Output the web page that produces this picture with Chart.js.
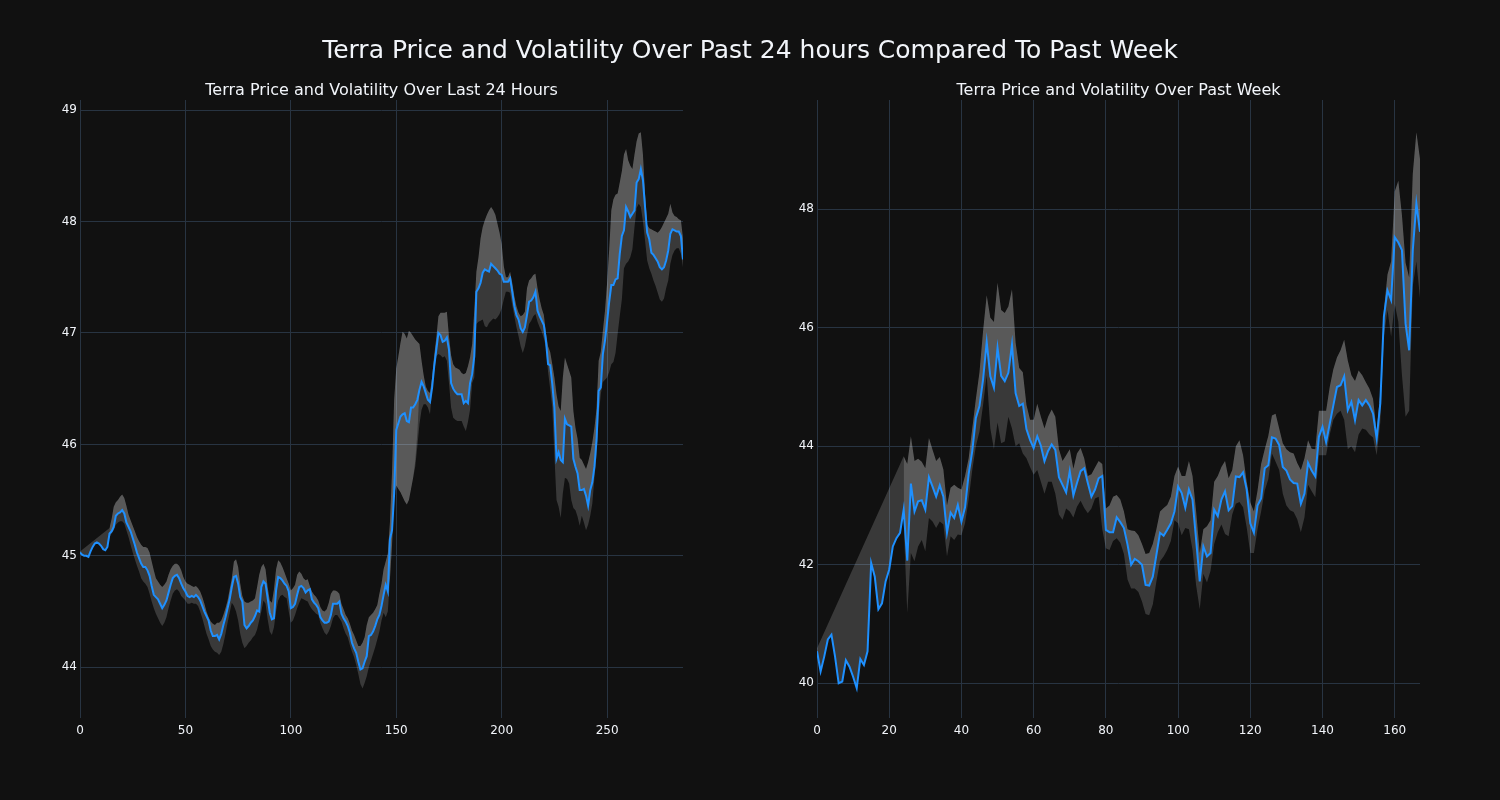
<!DOCTYPE html>
<html lang="en">
<head>
<meta charset="UTF-8">
<title>Terra Price and Volatility</title>
<script src="https://cdn.jsdelivr.net/npm/chart.js"></script>
<style>
    * { margin: 0; padding: 0; box-sizing: border-box; }

    body {
        width: 1500px;
        height: 800px;
        background: #111111;
        color: #f2f5fa;
        font-family: "DejaVu Sans", sans-serif;
        position: relative;
        overflow: hidden;
    }

    .chart-box {
        position: absolute;
        top: 0;
        width: 750px;
        height: 800px;
    }

    .main-title {
        position: absolute;
        top: 35px;
        left: 0;
        width: 1500px;
        text-align: center;
        font-size: 25px;
    }

    .sub-title {
        position: absolute;
        top: 80px;
        width: 603px;
        text-align: center;
        font-size: 16px;
    }
</style>
</head>
<body>
    <div class="chart-box" style="left:0"><canvas id="day-chart" width="750" height="800"></canvas></div>
    <div class="chart-box" style="left:750px"><canvas id="week-chart" width="750" height="800"></canvas></div>

    <div class="main-title">Terra Price and Volatility Over Past 24 hours Compared To Past Week</div>
    <div class="sub-title" style="left:80px">Terra Price and Volatility Over Last 24 Hours</div>
    <div class="sub-title" style="left:817px">Terra Price and Volatility Over Past Week</div>

<script>
// last 24 hours, 5 minute steps
const dayPrice = [
    45.03,45.01,45.0,45.0,44.99,45.04,45.08,45.11,45.12,45.11,
    45.09,45.06,45.05,45.08,45.2,45.22,45.26,45.36,45.38,45.39,
    45.41,45.38,45.3,45.26,45.22,45.16,45.1,45.03,44.98,44.93,
    44.9,44.9,44.87,44.82,44.73,44.65,44.63,44.61,44.57,44.53,
    44.56,44.6,44.67,44.74,44.8,44.82,44.83,44.8,44.75,44.71,
    44.68,44.64,44.63,44.64,44.63,44.65,44.63,44.6,44.55,44.5,
    44.46,44.42,44.33,44.28,44.28,44.29,44.25,44.3,44.38,44.45,
    44.53,44.61,44.72,44.81,44.82,44.75,44.63,44.59,44.38,44.35,
    44.37,44.4,44.42,44.46,44.51,44.5,44.72,44.77,44.75,44.62,
    44.49,44.43,44.44,44.69,44.81,44.8,44.78,44.75,44.73,44.68,
    44.53,44.54,44.57,44.65,44.72,44.73,44.71,44.67,44.69,44.7,
    44.61,44.58,44.56,44.53,44.45,44.42,44.4,44.4,44.41,44.47,
    44.57,44.57,44.57,44.59,44.48,44.44,44.41,44.37,44.31,44.22,
    44.17,44.13,44.05,43.98,43.99,44.05,44.1,44.28,44.29,44.32,
    44.37,44.43,44.47,44.55,44.65,44.74,44.68,45.15,45.23,45.56,
    46.13,46.19,46.25,46.27,46.28,46.21,46.2,46.33,46.33,46.36,
    46.4,46.49,46.56,46.52,46.46,46.4,46.38,46.51,46.7,46.85,
    47.0,46.98,46.92,46.93,46.96,46.85,46.55,46.5,46.47,46.45,
    46.45,46.45,46.37,46.39,46.37,46.55,46.63,46.79,47.37,47.4,
    47.45,47.54,47.57,47.56,47.55,47.62,47.6,47.58,47.56,47.53,
    47.52,47.46,47.46,47.46,47.49,47.37,47.24,47.16,47.12,47.04,
    47.01,47.05,47.16,47.28,47.29,47.32,47.37,47.2,47.15,47.11,
    47.07,46.93,46.72,46.71,46.54,46.33,45.87,45.93,45.86,45.84,
    46.23,46.18,46.17,46.16,45.87,45.8,45.74,45.59,45.59,45.6,
    45.54,45.45,45.59,45.66,45.8,46.04,46.48,46.51,46.81,46.93,
    47.1,47.28,47.43,47.43,47.48,47.49,47.71,47.87,47.92,48.13,
    48.09,48.04,48.07,48.1,48.35,48.38,48.47,48.37,48.13,47.9,
    47.84,47.72,47.7,47.67,47.64,47.59,47.57,47.59,47.65,47.74,
    47.89,47.93,47.92,47.91,47.91,47.87,47.66
];

const dayUpper = [
    45.04,null,null,null,null,null,null,null,null,null,
    null,null,null,null,45.25,45.33,45.44,45.48,45.5,45.53,
    45.55,45.52,45.45,45.37,45.32,45.27,45.22,45.17,45.13,45.1,
    45.08,45.08,45.07,45.03,44.95,44.87,44.8,44.77,44.74,44.72,
    44.74,44.77,44.83,44.88,44.91,44.93,44.93,44.91,44.87,44.81,
    44.77,44.75,44.74,44.73,44.72,44.73,44.71,44.68,44.63,44.57,
    44.5,44.45,44.41,44.39,44.38,44.4,44.4,44.42,44.47,44.53,
    44.6,44.7,44.8,44.95,44.97,44.9,44.75,44.64,44.59,44.58,
    44.58,44.59,44.6,44.62,44.72,44.83,44.9,44.93,44.88,44.72,
    44.6,44.58,44.7,44.88,44.96,44.94,44.9,44.85,44.8,44.75,
    44.69,44.71,44.74,44.83,44.86,44.84,44.8,44.78,44.79,44.73,
    44.68,44.65,44.63,44.6,44.54,44.51,44.5,44.52,44.58,44.66,
    44.69,44.69,44.68,44.66,44.57,44.52,44.47,44.44,44.39,44.33,
    44.29,44.24,44.19,44.19,44.22,44.27,44.38,44.45,44.47,44.49,
    44.52,44.56,44.66,44.75,44.88,44.95,45.02,45.3,45.75,46.4,
    46.68,46.79,46.91,47.01,46.99,46.95,47.02,47.0,46.97,46.94,
    46.92,46.9,46.75,46.62,46.52,46.48,46.46,46.6,46.8,46.96,
    47.15,47.18,47.18,47.18,47.19,46.97,46.8,46.72,46.69,46.68,
    46.67,46.64,46.63,46.64,46.7,46.78,46.9,47.2,47.55,47.68,
    47.85,47.95,48.01,48.06,48.1,48.13,48.1,48.06,47.98,47.9,
    47.8,47.6,47.5,47.5,47.55,47.45,47.33,47.24,47.18,47.15,
    47.16,47.19,47.4,47.47,47.49,47.52,47.53,47.4,47.3,47.22,
    47.16,47.0,46.88,46.83,46.72,46.6,46.45,46.34,46.3,46.6,
    46.78,46.72,46.66,46.6,46.3,46.15,46.05,45.88,45.86,45.82,
    45.78,45.84,45.92,46.02,46.15,46.32,46.75,46.83,47.02,47.2,
    47.45,47.75,48.1,48.2,48.24,48.25,48.35,48.45,48.6,48.65,
    48.55,48.5,48.47,48.6,48.72,48.79,48.8,48.6,48.25,47.97,
    47.94,47.93,47.92,47.91,47.9,47.92,47.95,47.99,48.03,48.07,
    48.16,48.08,48.05,48.04,48.02,48.01,47.85
];

const dayLower = [
    null,null,null,null,null,null,null,null,null,null,
    null,null,null,null,45.17,45.2,45.23,45.28,45.3,45.31,
    45.31,45.29,45.23,45.17,45.1,45.03,44.97,44.91,44.86,44.8,
    44.77,44.75,44.72,44.66,44.59,44.53,44.48,44.44,44.4,44.37,
    44.4,44.45,44.53,44.6,44.66,44.69,44.7,44.68,44.64,44.62,
    44.6,44.57,44.57,44.58,44.57,44.57,44.55,44.5,44.44,44.37,
    44.3,44.25,44.19,44.16,44.14,44.13,44.11,44.14,44.21,44.3,
    44.4,44.49,44.58,44.55,44.5,44.42,44.3,44.22,44.17,44.19,
    44.22,44.24,44.27,44.29,44.34,44.42,44.5,44.6,44.57,44.43,
    44.32,44.29,44.36,44.5,44.6,44.64,44.65,44.63,44.62,44.5,
    44.4,44.42,44.47,44.53,44.58,44.62,44.61,44.6,44.59,44.55,
    44.52,44.5,44.48,44.47,44.4,44.35,44.31,44.29,44.32,44.37,
    44.44,44.47,44.47,44.44,44.41,44.35,44.3,44.27,44.2,44.14,
    44.09,44.02,43.94,43.85,43.81,43.86,43.92,44.0,44.06,44.12,
    44.18,44.25,44.32,44.42,44.49,44.45,44.5,44.78,45.1,45.55,
    45.63,45.6,45.57,45.53,45.49,45.46,45.5,45.6,45.7,45.8,
    45.98,46.18,46.31,46.36,46.36,46.33,46.27,46.5,46.65,46.79,
    46.81,46.8,46.78,46.79,46.75,46.55,46.33,46.24,46.22,46.21,
    46.21,46.21,46.16,46.12,46.2,46.31,46.55,46.6,47.08,47.1,
    47.11,47.12,47.06,47.05,47.09,47.11,47.13,47.12,47.14,47.17,
    47.22,47.3,47.37,47.37,47.36,47.25,47.15,47.05,46.97,46.88,
    46.82,46.88,46.98,47.08,47.11,47.15,47.17,47.1,47.05,47.01,
    46.95,46.87,46.65,46.5,46.33,45.9,45.5,45.44,45.34,45.56,
    45.7,45.69,45.65,45.5,45.43,45.41,45.35,45.27,45.36,45.3,
    45.23,45.28,45.36,45.47,45.7,45.9,46.25,46.45,46.56,46.58,
    46.6,46.65,46.72,46.74,46.82,46.99,47.15,47.3,47.58,47.62,
    47.64,47.68,47.75,47.95,48.12,48.16,48.13,48.0,47.83,47.65,
    47.58,47.53,47.47,47.42,47.36,47.3,47.28,47.31,47.4,47.47,
    47.62,47.7,47.74,47.76,47.76,47.71,47.59
];

// where the lighter shade reaches below the price line: [index, edge value]
const dayShadeEdge = [
    [147, 44.8], [148, 45.1], [149, 45.55], [150, 45.63], [151, 45.6],
    [152, 45.57], [153, 45.53], [154, 45.49], [155, 45.46], [156, 45.5],
    [157, 45.6], [158, 45.7], [159, 45.85], [160, 46.1]
];

// past week, hourly
const weekPrice = [
    40.54,40.2,40.45,40.74,40.82,40.45,40.0,40.03,40.39,40.28,
    40.11,39.92,40.41,40.31,40.54,42.03,41.8,41.25,41.35,41.72,
    41.92,42.31,42.45,42.54,42.93,42.07,43.37,42.9,43.07,43.09,
    42.93,43.48,43.32,43.15,43.34,43.15,42.54,42.88,42.79,43.01,
    42.73,42.97,43.53,43.92,44.48,44.68,45.13,45.76,45.18,44.99,
    45.66,45.19,45.1,45.24,45.72,44.9,44.68,44.72,44.29,44.11,
    43.97,44.17,44.01,43.75,43.92,44.03,43.94,43.48,43.35,43.22,
    43.58,43.17,43.38,43.58,43.63,43.38,43.15,43.27,43.46,43.5,
    42.59,42.55,42.55,42.8,42.72,42.62,42.34,42.0,42.1,42.06,
    42.0,41.66,41.65,41.8,42.17,42.54,42.49,42.59,42.7,42.9,
    43.32,43.21,42.96,43.27,43.1,42.42,41.72,42.31,42.14,42.2,
    42.93,42.82,43.1,43.24,42.92,42.99,43.49,43.48,43.56,43.27,
    42.7,42.54,43.0,43.12,43.63,43.68,44.15,44.13,44.02,43.65,
    43.59,43.44,43.38,43.37,43.03,43.2,43.72,43.59,43.49,44.16,
    44.33,44.07,44.38,44.69,45.0,45.03,45.18,44.61,44.75,44.44,
    44.78,44.69,44.78,44.69,44.55,44.13,44.72,46.19,46.63,46.47,
    47.53,47.44,47.31,46.07,45.62,47.31,48.1,47.62
];

const weekUpper = [
    40.59,null,null,null,null,null,null,null,null,null,
    null,null,null,null,null,null,null,null,null,null,
    null,null,null,null,43.83,43.7,44.17,43.75,43.79,43.74,
    43.63,44.14,43.94,43.75,43.82,43.61,43.0,43.3,43.35,43.3,
    43.27,43.5,43.8,44.3,44.8,45.25,45.95,46.55,46.17,46.1,
    46.76,46.3,46.25,46.36,46.65,45.75,45.32,45.25,44.7,44.45,
    44.45,44.72,44.5,44.3,44.5,44.62,44.5,43.95,43.75,43.85,
    43.95,43.62,43.88,43.97,43.8,43.5,43.53,43.64,43.75,43.7,
    42.95,43.0,43.15,43.18,43.1,42.9,42.6,42.58,42.57,42.5,
    42.35,42.18,42.2,42.35,42.6,42.9,42.96,43.01,43.15,43.5,
    43.66,43.5,43.5,43.75,43.5,42.9,42.2,42.6,42.65,42.75,
    43.4,43.5,43.65,43.75,43.46,43.6,44.0,44.1,43.85,43.4,
    43.05,42.9,43.25,43.7,43.95,44.18,44.52,44.55,44.3,44.05,
    43.95,43.9,43.88,43.72,43.6,43.8,44.1,43.96,43.95,44.6,
    44.6,44.6,45.0,45.3,45.5,45.62,45.8,45.45,45.2,45.1,
    45.28,45.2,45.08,44.97,44.8,44.25,44.9,46.3,46.9,47.12,
    48.3,48.48,47.9,47.1,46.85,48.6,49.3,48.85
];

const weekLower = [
    null,null,null,null,null,null,null,null,null,null,
    null,null,null,null,null,null,null,null,null,null,
    null,null,null,null,42.7,41.18,42.2,42.06,42.31,42.42,
    42.23,42.79,42.73,42.62,42.73,42.68,42.14,42.48,42.42,42.51,
    42.5,42.7,43.1,43.6,44.0,44.25,44.7,45.2,44.3,43.95,
    44.4,44.05,44.08,44.5,44.3,44.0,44.05,43.88,43.8,43.65,
    43.52,43.6,43.4,43.2,43.4,43.4,43.2,42.85,42.76,42.95,
    42.9,42.8,42.98,43.08,42.96,42.87,42.95,43.12,43.15,42.6,
    42.28,42.25,42.4,42.45,42.37,42.18,41.75,41.6,41.6,41.54,
    41.38,41.17,41.15,41.33,41.72,42.06,42.14,42.25,42.4,42.75,
    42.7,42.5,42.62,42.6,42.25,41.65,41.25,41.85,41.7,41.9,
    42.35,42.55,42.68,42.52,42.48,42.85,43.03,43.06,42.97,42.63,
    42.2,42.2,42.6,42.9,43.25,43.45,43.88,43.74,43.6,43.2,
    43.0,42.92,42.89,42.77,42.55,42.8,43.35,43.24,43.14,43.85,
    43.85,43.85,44.2,44.45,44.55,44.6,44.45,43.95,44.0,43.9,
    44.2,44.3,44.28,44.2,44.15,43.85,44.4,45.85,46.3,45.85,
    46.4,46.1,45.2,44.5,44.6,46.7,47.12,46.5
];

const weekShadeEdge = [];

const FONT = '"DejaVu Sans", sans-serif';
const TEXT_COLOR = '#f2f5fa';
const GRID_COLOR = '#283442';
const PRICE_COLOR = '#1e90ff';
const BAND_FILL = 'rgba(255,255,255,0.17)';

// boundary between the light and dark shade: follows the price unless noted
function shadeEdge(price, edges) {
    const edge = price.slice();
    edges.forEach(([i, v]) => { edge[i] = v; });
    return edge;
}

function makeChart(id, price, upper, lower, edges, cfg) {
    const ctx = document.getElementById(id).getContext('2d');
    return new Chart(ctx, {
        type: 'line',
        data: {
            labels: price.map((_, i) => i),
            datasets: [
                {
                    label: 'Price',
                    data: price,
                    borderColor: PRICE_COLOR,
                    borderWidth: 2,
                    pointRadius: 0,
                    fill: false,
                    order: 0
                },
                {
                    label: 'Edge',
                    data: shadeEdge(price, edges),
                    borderColor: 'rgba(0,0,0,0)',
                    pointRadius: 0,
                    fill: false,
                    order: 3
                },
                {
                    label: 'Upper',
                    data: upper,
                    borderColor: 'rgba(0,0,0,0)',
                    backgroundColor: BAND_FILL,
                    pointRadius: 0,
                    spanGaps: true,
                    fill: 1,
                    order: 1
                },
                {
                    label: 'Lower',
                    data: lower,
                    borderColor: 'rgba(0,0,0,0)',
                    backgroundColor: BAND_FILL,
                    pointRadius: 0,
                    fill: 2,
                    order: 2
                }
            ]
        },
        options: {
            responsive: false,
            animation: false,
            layout: { padding: { top: 100, right: cfg.padRight, bottom: 0, left: 0 } },
            plugins: {
                legend: { display: false },
                tooltip: { enabled: false }
            },
            scales: {
                x: {
                    type: 'linear',
                    min: 0,
                    max: price.length - 1,
                    grid: { color: GRID_COLOR, drawTicks: false },
                    border: { display: false },
                    ticks: {
                        stepSize: cfg.xStep,
                        includeBounds: false,
                        color: TEXT_COLOR,
                        font: { family: FONT, size: 12 },
                        padding: 6,
                        maxRotation: 0
                    },
                    afterFit: (scale) => { scale.height = 82; }
                },
                y: {
                    min: cfg.yMin,
                    max: cfg.yMax,
                    grid: { color: GRID_COLOR, drawTicks: false },
                    border: { display: false },
                    ticks: {
                        stepSize: cfg.yStep,
                        includeBounds: false,
                        color: TEXT_COLOR,
                        font: { family: FONT, size: 12 },
                        padding: 3
                    },
                    afterFit: (scale) => { scale.width = cfg.yWidth; }
                }
            }
        }
    });
}

makeChart('day-chart', dayPrice, dayUpper, dayLower, dayShadeEdge, {
    padRight: 67, yWidth: 80, xStep: 50, yStep: 1, yMin: 43.545, yMax: 49.09
});

makeChart('week-chart', weekPrice, weekUpper, weekLower, weekShadeEdge, {
    padRight: 80, yWidth: 67, xStep: 20, yStep: 2, yMin: 39.414, yMax: 49.845
});
</script>
</body>
</html>
